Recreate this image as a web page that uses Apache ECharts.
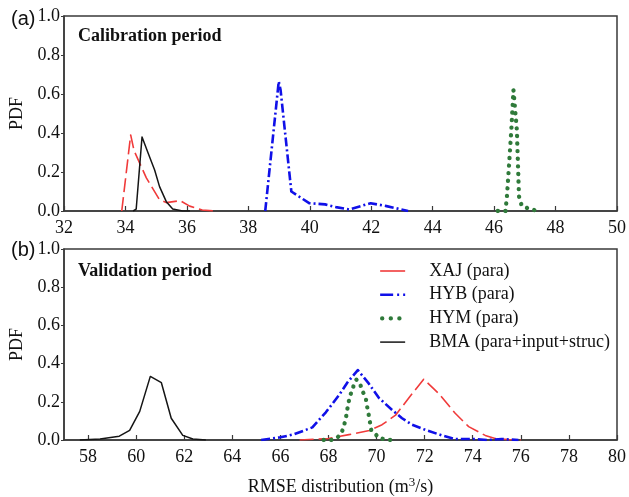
<!DOCTYPE html>
<html><head><meta charset="utf-8">
<script src="https://cdn.jsdelivr.net/npm/echarts@6/dist/echarts.min.js"></script>
<style>html,body{margin:0;padding:0;background:#fff}#c{width:629px;height:497px}</style>
</head><body><div id="c"></div>
<script>
// ---- Data ----
var seriesNames = ['XAJ (para)', 'HYB (para)', 'HYM (para)', 'BMA (para+input+struc)'];
// Calibration period: [RMSE, PDF]
var calXAJ = [[33.88,0],[34.17,0.39],[34.28,0.31],[34.68,0.17],[35.1,0.06],[35.33,0.043],[35.78,0.053],[36.09,0.025],[36.5,0.005],[36.9,0]];
var calHYB = [[38.55,0],[38.99,0.665],[39.05,0.62],[39.4,0.10],[39.98,0.04],[40.5,0.034],[40.85,0.02],[41.28,0.008],[41.98,0.04],[42.5,0.025],[43.2,0]];
var calHYM = [[46.12,0],[46.37,0],[46.42,0.08],[46.49,0.245],[46.56,0.415],[46.63,0.62],[46.66,0.615],[46.74,0.415],[46.81,0.075],[46.9,0.026],[47.17,0.01],[47.44,0]];
var calBMA = [[34.25,0],[34.35,0.01],[34.54,0.38],[34.74,0.296],[34.95,0.21],[35.11,0.125],[35.33,0.048],[35.54,0.01],[35.86,0],[36.1,0]];
// Validation period
var valXAJ = [[66.8,0],[68.0,0.008],[68.85,0.028],[69.7,0.05],[70.23,0.08],[70.79,0.13],[71.34,0.22],[71.96,0.318],[72.58,0.244],[73.27,0.14],[73.83,0.07],[74.52,0.024],[74.93,0.008],[75.5,0.002],[76.0,0]];
var valHYB = [[65.2,0],[66.0,0.014],[66.57,0.03],[67.33,0.066],[67.89,0.145],[68.44,0.235],[68.78,0.30],[69.22,0.366],[69.68,0.295],[70.1,0.22],[70.65,0.157],[71.06,0.114],[71.48,0.08],[72.03,0.053],[72.72,0.024],[73.27,0.005],[74.1,0.005],[74.6,0.0],[75.2,0.005],[75.9,0]];
var valHYM = [[67.8,0],[68.16,0],[68.44,0.02],[68.58,0.05],[68.7,0.10],[68.76,0.14],[68.82,0.19],[68.9,0.23],[69.0,0.27],[69.16,0.316],[69.3,0.30],[69.4,0.26],[69.55,0.22],[69.6,0.18],[69.7,0.114],[69.78,0.05],[69.96,0.03],[70.1,0.01],[70.5,0],[70.8,0]];
var valBMA = [[57.66,0],[58.5,0.005],[59.3,0.02],[59.73,0.05],[60.15,0.15],[60.59,0.333],[61.05,0.30],[61.46,0.114],[61.94,0.024],[62.36,0.005],[62.9,0]];
// Axes / ticks
var calXTicks = [32,34,36,38,40,42,44,46,48,50];
var valXTicks = [58,60,62,64,66,68,70,72,74,76,78,80];
var yTicks = [0,0.2,0.4,0.6,0.8,1.0];

// ---- Styles ----
var serif = '"Liberation Serif","Times New Roman",serif';
var axisColor = '#3a3a3a';
var styles = [
  {color:'#f03a3a', width:1.6, type:[14,5], cap:'butt'},
  {color:'#1010e8', width:2.6, type:[9,3,2,3], cap:'butt'},
  {color:'#2f7a3a', width:4.3, type:[0.1,7.5], cap:'round'},
  {color:'#151515', width:1.5, type:'solid', cap:'butt'}
];

function xAxisCfg(idx, min, max, ticks, name) {
  return {
    type:'value', gridIndex:idx, min:min, max:max,
    name:name || '', nameLocation:'middle', nameGap:36,
    nameTextStyle:{fontFamily:serif, fontSize:18, color:'#111',
      rich:{sup:{fontFamily:serif, fontSize:13, color:'#111', padding:[0,0,9,0]}}},
    axisLine:{show:true, onZero:false, lineStyle:{color:axisColor, width:1.5}},
    axisTick:{show:true, inside:true, length:5, customValues:ticks, lineStyle:{color:axisColor, width:1.2}},
    axisLabel:{customValues:ticks, margin:8, fontFamily:serif, fontSize:18, color:'#111'},
    splitLine:{show:false}
  };
}
function yAxisCfg(idx) {
  return {
    type:'value', gridIndex:idx, min:0, max:1, interval:0.2,
    name:'PDF', nameLocation:'middle', nameGap:33, nameRotate:90,
    nameTextStyle:{fontFamily:serif, fontSize:18, color:'#111'},
    axisLine:{show:true, lineStyle:{color:axisColor, width:1.5}},
    axisTick:{show:true, inside:false, length:3, lineStyle:{color:axisColor}},
    axisLabel:{margin:4, fontFamily:serif, fontSize:18, color:'#111',
      formatter:function(v){return v.toFixed(1);}},
    splitLine:{show:false}
  };
}
function mk(name, data, si, axis) {
  var s = styles[si];
  return {
    name:name, type:'line', xAxisIndex:axis, yAxisIndex:axis, data:data,
    showSymbol:false, symbol:'none', silent:true, animation:false, z: 3+si,
    lineStyle:{color:s.color, width:s.width, type:s.type, cap:s.cap, join:'round'},
    itemStyle:{color:s.color}
  };
}
function legendLine(si, overrides) {
  var s = styles[si];
  var ls = {color:s.color, width:s.width, type:s.type, cap:s.cap};
  for (var k in (overrides||{})) ls[k] = overrides[k];
  return ls;
}

var chart = echarts.init(document.getElementById('c'), null, {renderer:'canvas'});
chart.setOption({
  animation:false,
  backgroundColor:'#fff',
  grid:[
    {left:64, top:16, width:555, height:195, show:true, borderColor:axisColor, borderWidth:1.5, backgroundColor:'transparent'},
    {left:64, top:249, width:555, height:193, show:true, borderColor:axisColor, borderWidth:1.5, backgroundColor:'transparent'}
  ],
  title:[
    {text:'(a)', left:6, top:4, textStyle:{fontFamily:'"Liberation Sans",Arial,sans-serif', fontSize:20, fontWeight:'normal', color:'#111'}},
    {text:'(b)', left:6, top:235, textStyle:{fontFamily:'"Liberation Sans",Arial,sans-serif', fontSize:20, fontWeight:'normal', color:'#111'}},
    {text:'Calibration period', left:73, top:22, textStyle:{fontFamily:serif, fontSize:18, fontWeight:'bold', color:'#111'}},
    {text:'Validation period', left:73, top:257, textStyle:{fontFamily:serif, fontSize:18, fontWeight:'bold', color:'#111'}}
  ],
  legend:{
    orient:'vertical', left:373, top:256, itemWidth:25, itemHeight:14, itemGap:3.7,
    itemStyle:{opacity:0},
    textStyle:{fontFamily:serif, fontSize:18, color:'#111', lineHeight:20, padding:[0,0,0,19]},
    data:[
      {name:seriesNames[0], lineStyle:legendLine(0, {type:'solid'})},
      {name:seriesNames[1], lineStyle:legendLine(1, {type:[13,4,2,4]})},
      {name:seriesNames[2], lineStyle:legendLine(2, {type:[0.1,8.5], dashOffset:-2})},
      {name:seriesNames[3], lineStyle:legendLine(3)}
    ],
    selectedMode:false
  },
  xAxis:[
    xAxisCfg(0, 32, 50, calXTicks, ''),
    xAxisCfg(1, 57, 80, valXTicks, 'RMSE distribution (m{sup|3}/s)')
  ],
  yAxis:[yAxisCfg(0), yAxisCfg(1)],
  series:[
    mk(seriesNames[0], calXAJ, 0, 0),
    mk(seriesNames[1], calHYB, 1, 0),
    mk(seriesNames[2], calHYM, 2, 0),
    mk(seriesNames[3], calBMA, 3, 0),
    mk(seriesNames[0], valXAJ, 0, 1),
    mk(seriesNames[1], valHYB, 1, 1),
    mk(seriesNames[2], valHYM, 2, 1),
    mk(seriesNames[3], valBMA, 3, 1)
  ]
});
</script></body></html>
